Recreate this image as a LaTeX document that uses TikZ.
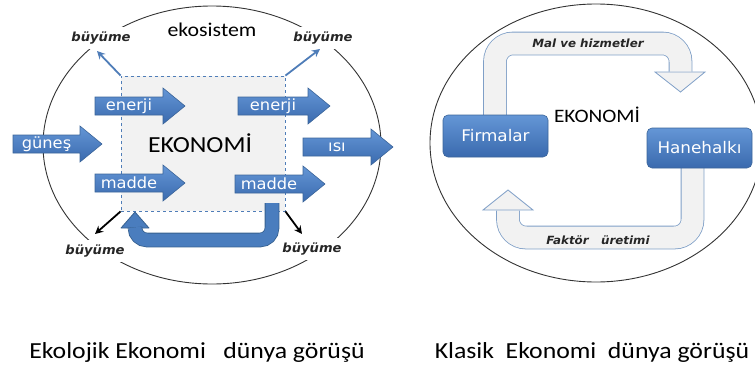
\documentclass[tikz,border=0pt]{standalone}
\usepackage{fontspec}
\setmainfont{Carlito}[FakeStretch=1.12]
\newfontfamily\vfont{DejaVu Sans}[FakeStretch=1.05]
\usetikzlibrary{arrows.meta}

\definecolor{arrtop}{HTML}{6496D6}
\definecolor{arrbot}{HTML}{3A6AAE}
\definecolor{arrline}{HTML}{3B659A}
\definecolor{ufill}{HTML}{4A7DBE}
\definecolor{uline}{HTML}{36608F}
\definecolor{paleband}{HTML}{F2F2F2}
\definecolor{paleline}{HTML}{7F9FC7}
\definecolor{dashblue}{HTML}{4F7DB8}
\definecolor{ringgray}{HTML}{333333}

\tikzset{
  blockarrow/.style={top color=arrtop, bottom color=arrbot, draw=arrline, line width=0.6pt},
  arrowlabel/.style={text=white, font=\vfont\fontsize{15.5}{17}\selectfont, inner sep=0pt},
  boxlabel/.style={rounded corners=5pt, top color=arrtop, bottom color=arrbot, draw=arrline,
    line width=0.6pt, text=white, font=\vfont\fontsize{16}{18}\selectfont},
  growlabel/.style={fill=white, inner sep=5pt, font=\vfont\bfseries\itshape\fontsize{12.5}{14}\selectfont, text=black!85},
  flowlabel/.style={inner sep=1pt, font=\vfont\bfseries\itshape\fontsize{11.3}{13}\selectfont, text=black!85},
  ring/.style={draw=ringgray, line width=0.9pt},
  econbox/.style={draw=dashblue, fill=paleband, dashed, line width=0.8pt, minimum width=164pt, minimum height=135pt, inner sep=0pt},
  ushaft/.style={draw=uline, double=ufill, line width=0.8pt, double distance=13pt, rounded corners=12pt},
  uhead/.style={fill=ufill, draw=uline, line width=0.8pt, line join=round},
  hollowshaft/.style={draw=paleline, double=paleband, line width=0.8pt, double distance=22pt, rounded corners=18pt},
  hollowhead/.style={fill=paleband, draw=paleline, line width=0.8pt},
  bluegrow/.style={draw=dashblue, line width=1.8pt, -{Stealth[length=8pt,width=8pt]}},
  blackgrow/.style={draw=black, line width=1.8pt, -{Stealth[length=8pt,width=8pt]}},
  caption/.style={font=\fontsize{23}{27}\selectfont, text=black}
}

% block arrow: name, x of tail, x of tip, y of axis, label
\newcommand{\blockarr}[5]{%
  \path[blockarrow] (#2,#4-9) -- (#3-22,#4-9) -- (#3-22,#4-18) -- (#3,#4)
    -- (#3-22,#4+18) -- (#3-22,#4+9) -- (#2,#4+9) -- cycle;
  \node[arrowlabel] (#1) at ({(#2+#3-22)/2},#4) {#5};
}

\begin{document}
\begin{tikzpicture}[x=1pt,y=-1pt]
\useasboundingbox (0,0) rectangle (755,367);

% ---------- ecological view ----------
\draw[ring] (212,145) ellipse [x radius=169, y radius=139];
\node[font=\fontsize{19.5}{23}\selectfont] (eco) at (212,30) {ekosistem};

\node[econbox] (econ) at (203,143.5) {};
\node[font=\fontsize{23}{27}\selectfont] (econtext) at (200,143) {EKONOMİ};

% growth labels and their arrows
\node[growlabel] (gtl) at (101,38) {büyüme};
\node[growlabel] (gtr) at (323,38) {büyüme};
\node[growlabel] (gbl) at (95,251) {büyüme};
\node[growlabel] (gbr) at (312,249) {büyüme};
\coordinate (tipTL) at (97,51);
\coordinate (tipTR) at (320,49);
\coordinate (tipBL) at (95,234);
\coordinate (tipBR) at (302,234);
\draw[bluegrow] (econ.north west) -- (tipTL);
\draw[bluegrow] (econ.north east) -- (tipTR);
\draw[blackgrow] (econ.south west) -- (tipBL);
\draw[blackgrow] (econ.south east) -- (tipBR);

% flows through the economy
\blockarr{enerjiIn}{95}{185}{106}{enerji}
\blockarr{enerjiOut}{238}{330}{106}{enerji}
\blockarr{gunes}{13}{102}{144}{güneş}
\blockarr{isi}{303}{393}{147}{ısı}
\blockarr{maddeIn}{95}{185}{183}{madde}
\blockarr{maddeOut}{235}{325}{184}{madde}

% recycling loop
\coordinate (loopStart) at (272,203);
\coordinate (loopEnd) at (135,228.5);
\path[uhead] (121,228) -- (135,212) -- (149,228) -- cycle;
\draw[ushaft] (loopStart) -- (272,240) -- (135,240) -- (loopEnd);

% ---------- classical view ----------
\draw[ring] (596,143) ellipse [x radius=166, y radius=139];

% goods and services loop
\path[hollowhead] (655,72) -- (705,72) -- (680.5,92) -- cycle;
\draw[hollowshaft] (495,125) -- (495,43.5) -- (680.5,43.5) -- (680.5,71.5);
\node[flowlabel] (mal) at (588,43) {Mal ve hizmetler};

% factor loop
\path[hollowhead] (483,210) -- (533,210) -- (508,190) -- cycle;
\draw[hollowshaft] (692.5,160) -- (692.5,237.5) -- (508,237.5) -- (508,210.5);
\node[flowlabel] (faktor) at (598,240) {Faktör\ \ \ üretimi};

\node[boxlabel, minimum width=105pt, minimum height=42pt] (firma) at (495.5,136) {Firmalar};
\node[boxlabel, minimum width=105pt, minimum height=40pt] (hane) at (699.5,148) {Hanehalkı};
\node[font=\fontsize{19}{22}\selectfont] (econ2) at (597,115) {EKONOMİ};

% ---------- captions ----------
\node[caption] (capL) at (197,352) {Ekolojik Ekonomi\ \ \ dünya görüşü};
\node[caption] (capR) at (592,352) {Klasik\ \ Ekonomi\ \ dünya görüşü};
\end{tikzpicture}
\end{document}
